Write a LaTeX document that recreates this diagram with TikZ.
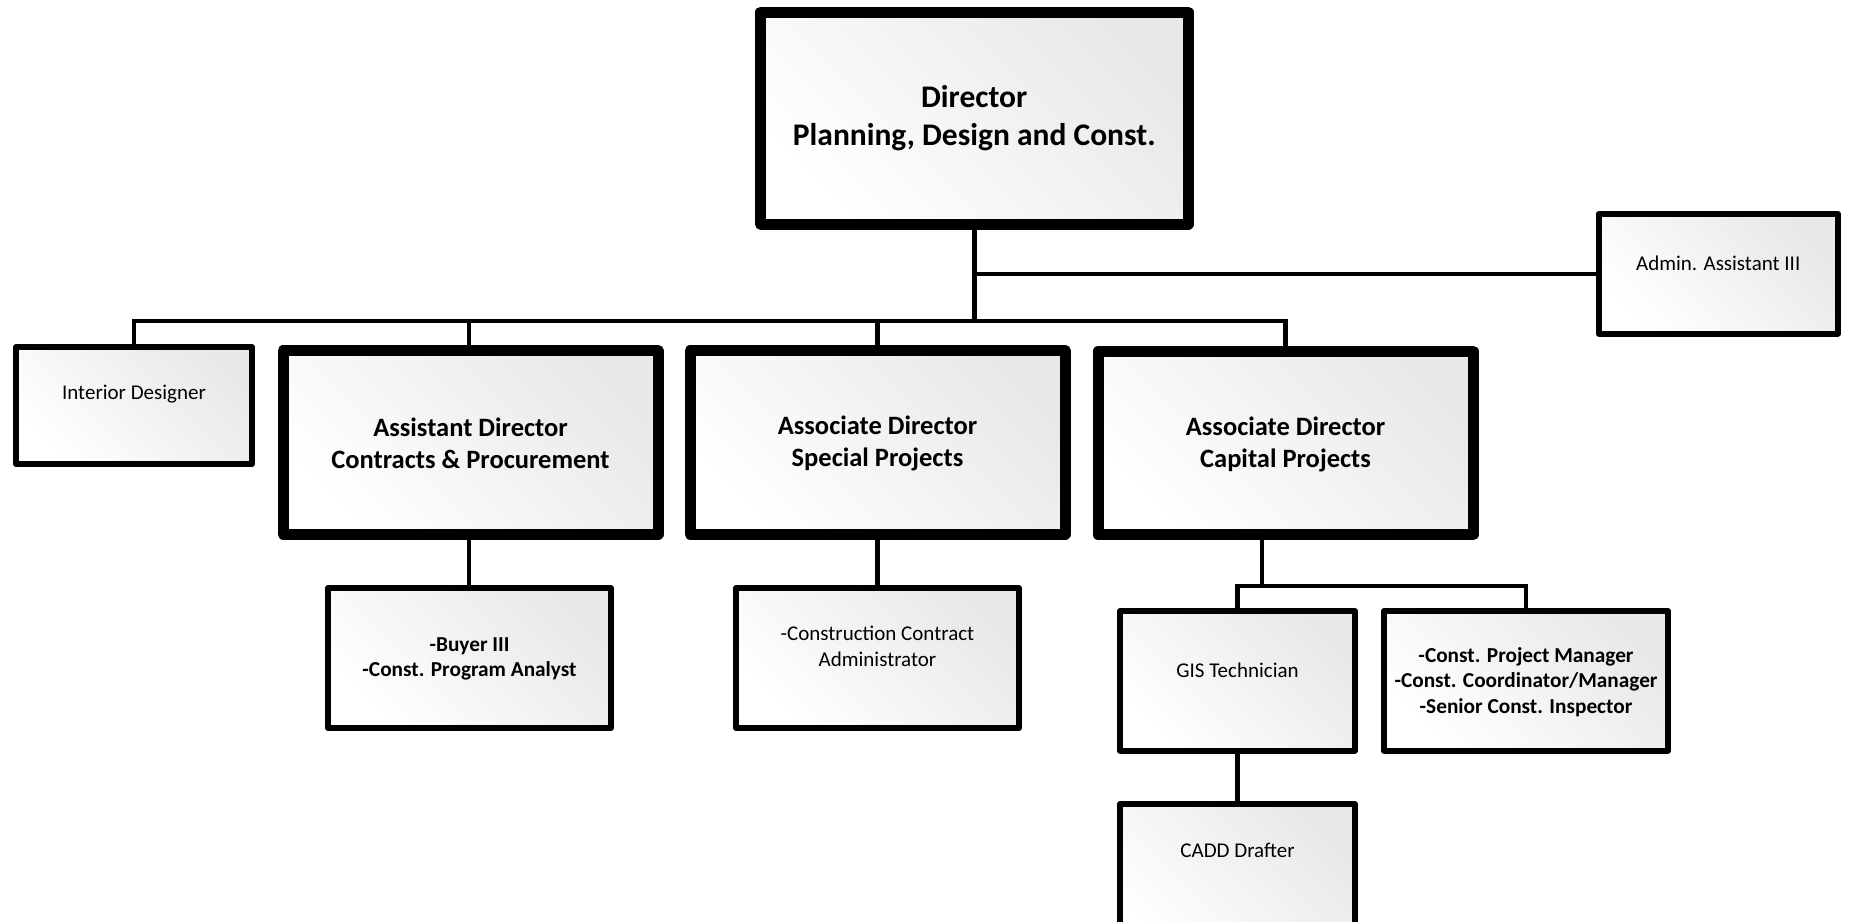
\documentclass[tikz,border=0pt]{standalone}
\usepackage{fontspec}
\setmainfont{Carlito}
\begin{document}
\begin{tikzpicture}[x=1pt,y=-1pt,
  boxbase/.style={draw=black, rectangle, line join=round, top color=black!9, bottom color=white, shading angle=-45, inner sep=0pt},
  bigbox/.style={boxbase, line width=11pt},
  smallbox/.style={boxbase, line width=6pt},
  conn/.style={line width=4.5pt, line cap=rect, draw=black},
  ttop/.style={font=\fontsize{31.5}{38}\selectfont\bfseries, align=center, inner sep=0pt},
  tbig/.style={font=\fontsize{26.5}{32}\selectfont\bfseries, align=center, inner sep=0pt},
  tsb/.style={font=\fontsize{21.3}{25.5}\selectfont\bfseries, align=center, inner sep=0pt},
  treg/.style={font=\fontsize{21}{26}\selectfont, align=center, inner sep=0pt}
]
\useasboundingbox (0,0) rectangle (1849,921);
\begin{scope}
\clip (0,0) rectangle (1849,921);
% coordinates
\coordinate (busL) at (134,321);
\coordinate (busR) at (1285.5,321);
\coordinate (busM) at (974.25,321);
\coordinate (admJ) at (974.25,274);
\coordinate (capJ) at (1262,586);
\coordinate (subL) at (1237.5,586);
\coordinate (subR) at (1526,586);

% connectors (behind boxes)
\draw[conn] (974.25,224) coordinate (dirB) -- (busM);
\draw[conn] (admJ) -- (1598,274) coordinate (admW);
\draw[conn] (busL) -- (busR);
\draw[conn] (busL) -- (134,350) coordinate (intT);
\draw[conn] (469,321) coordinate (busA) -- (469,352) coordinate (asdT);
\draw[conn] (877.5,321) coordinate (busS) -- (877.5,352) coordinate (spT);
\draw[conn] (busR) -- (1285.5,352) coordinate (capT);
\draw[conn] (469,534) coordinate (asdB) -- (469,590) coordinate (buyT);
\draw[conn] (877.5,534) coordinate (spB) -- (877.5,590) coordinate (ccaT);
\draw[conn] (1262,534) coordinate (capB) -- (capJ);
\draw[conn] (subL) -- (subR);
\draw[conn] (subL) -- (1237.5,612) coordinate (gisT);
\draw[conn] (subR) -- (1526,612) coordinate (cpmT);
\draw[conn] (1237.5,750) coordinate (gisB) -- (1237.5,806) coordinate (cadT);

% boxes
\node[bigbox, minimum width=427.5pt, minimum height=212pt] (dir) at (974.25,118) {};
\node[ttop] (dirt) at (974.25,118) {Director\\Planning, Design and Const.};

\node[smallbox, minimum width=239.5pt, minimum height=119.5pt] (adm) at (1718.25,273.75) {};
\node[treg] (admt) at (1718.25,263) {Admin. Assistant III};

\node[smallbox, minimum width=236pt, minimum height=117pt] (int) at (134,405.5) {};
\node[treg] (intt) at (134,394) {Interior Designer};

\node[bigbox, minimum width=375pt, minimum height=183.5pt] (asd) at (470.5,442.25) {};
\node[tbig] (asdt) at (470.5,443) {Assistant Director\\Contracts \& Procurement};

\node[bigbox, minimum width=375pt, minimum height=183.5pt] (sp) at (877.5,442.25) {};
\node[tbig] (spt) at (877.5,443) {Associate Director\\Special Projects};

\node[bigbox, minimum width=375pt, minimum height=183.5pt] (cap) at (1285.5,443) {};
\node[tbig] (capt) at (1285.5,444) {Associate Director\\Capital Projects};

\node[smallbox, minimum width=283pt, minimum height=140pt] (buy) at (469.5,658) {};
\node[tsb] (buyt) at (469.5,659) {-Buyer III\\-Const. Program Analyst};

\node[smallbox, minimum width=283pt, minimum height=140pt] (cca) at (877.5,658) {};
\node[treg] (ccat) at (877.5,646) {-Construction Contract\\Administrator};

\node[smallbox, minimum width=235pt, minimum height=139.5pt] (gis) at (1237.5,680.75) {};
\node[treg] (gist) at (1237.5,670) {GIS Technician};

\node[smallbox, minimum width=284pt, minimum height=139.5pt] (cpm) at (1526,680.75) {};
\node[tsb] (cpmt) at (1526,682) {-Const. Project Manager\\-Const. Coordinator/Manager\\-Senior Const. Inspector};

\node[smallbox, minimum width=235pt, minimum height=160pt] (cad) at (1237.5,884) {};
\node[treg] (cadt) at (1237.5,850) {CADD Drafter};
\end{scope}
\end{tikzpicture}
\end{document}
